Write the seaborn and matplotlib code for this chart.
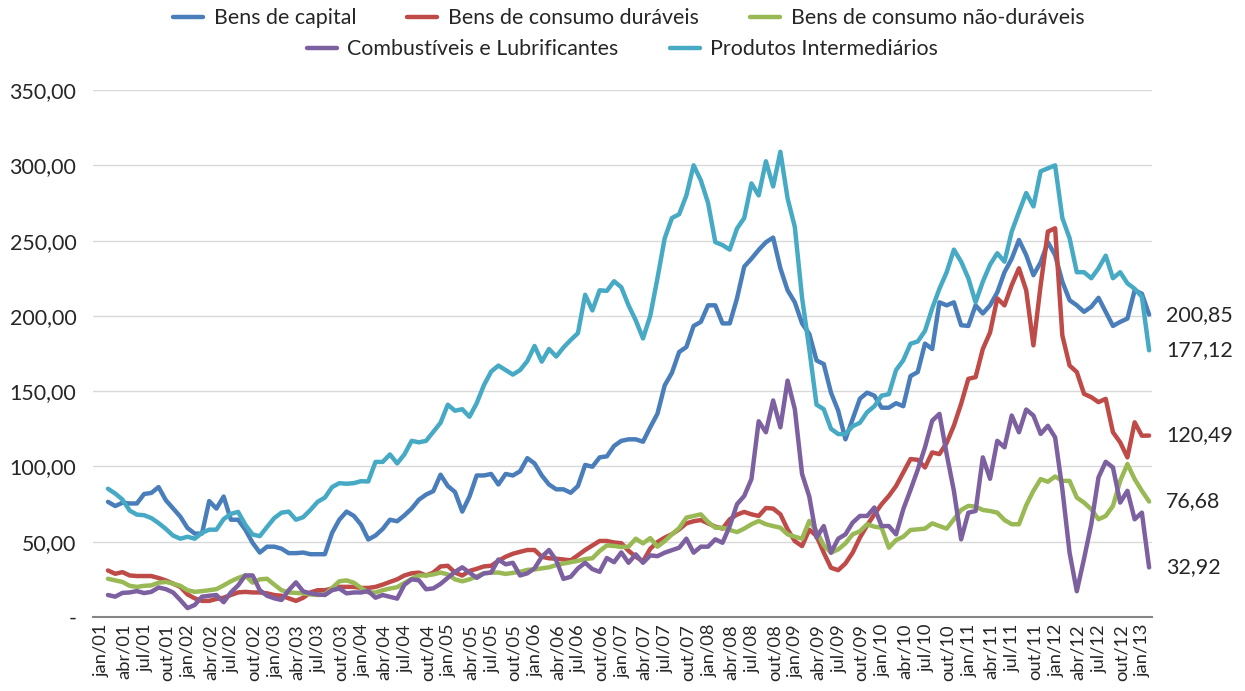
import pandas as pd
import matplotlib
matplotlib.use('Agg')
import matplotlib.pyplot as plt
import matplotlib.transforms as mtransforms
from matplotlib.lines import Line2D
import seaborn as sns

# Índices de preços de importação por categoria de uso (jan/01 a jan/13)
bens_capital = [
    76.5, 73.7, 75.9, 75.4, 75.4, 81.7, 82.4, 86.3, 77.6, 72.2, 66.7, 59.1,
    55.4, 55.4, 77, 72, 80, 64.6, 64.6, 58, 49.3, 42.8, 46.7, 46.7,
    45.4, 42.4, 42.4, 42.8, 41.7, 41.7, 41.7, 55.9, 64.6, 70, 67.2, 61.3,
    51.5, 54.1, 58.5, 64.6, 63.6, 67.5, 72, 77.9, 81.3, 83.6, 94.5, 87,
    83, 70, 80, 94, 94, 95, 88, 95, 94, 96.8, 105.5, 102,
    94, 88, 84.8, 84.8, 82.5, 87, 101, 99.8, 106, 106.7, 113.6, 117,
    118, 118, 116.4, 126, 135, 153.8, 162.2, 176, 179.3, 193.3, 196, 207,
    207, 195, 195, 211.6, 232.7, 238, 243.8, 248.9, 252, 231.6, 217, 209,
    195, 188, 170.4, 168, 149, 137, 118, 131.6, 145, 149, 147, 139,
    139, 142, 140, 160, 162.7, 181.6, 178, 209, 207, 209, 193.8, 193.3,
    207, 201.6, 207, 215.6, 229, 238, 250.4, 240.4, 227, 235.6, 248.9, 240.4,
    222.7, 210.4, 207, 202.7, 206, 212, 202.7, 193.3, 196, 198.2, 217, 214.7,
    200.85,
]
consumo_duraveis = [
    30.9, 28.7, 29.8, 27.6, 27.2, 27.2, 27.2, 25.9, 24.3, 22.2, 20, 15,
    12.4, 10.7, 10.7, 12, 12.8, 14.6, 16.3, 16.7, 16.3, 16.3, 15.7, 14.6,
    14.1, 12.4, 10.7, 12.8, 16.3, 17.8, 17.8, 18.9, 20, 20, 20, 19.3,
    19.3, 20, 21.5, 23.3, 25, 27.6, 29, 29.5, 27.6, 29.5, 33.6, 34,
    29.5, 27.5, 30.6, 32, 33.6, 34, 37.3, 40, 42, 43.3, 44.5, 44.5,
    40, 39, 38.7, 38.2, 37.6, 41, 44.5, 47.5, 50.5, 50.5, 49.5, 49,
    44, 40, 37, 45.3, 49.8, 52.7, 55, 58.2, 62.2, 63.6, 64.4, 62.2,
    60, 58.7, 64.9, 68, 69.8, 68.2, 67.1, 72.4, 72, 68.2, 58.2, 50.4,
    47.1, 58, 53.8, 42.7, 32.7, 31.1, 35.6, 42.7, 52.7, 60.9, 68.2, 74.9,
    80.4, 87, 96, 104.9, 104.4, 99.3, 109.3, 108.2, 115.6, 127.1, 141.6, 158.2,
    159.3, 178, 188.9, 211.6, 207, 220.4, 231.6, 217, 180.4, 220.4, 256, 258.2,
    187, 167, 162.7, 148.2, 146, 142.7, 144.9, 122.7, 116, 106, 129.3, 120.4,
    120.49,
]
consumo_nao_duraveis = [
    25.4, 24.3, 23.3, 20.7, 20, 20.7, 21, 22.8, 23.3, 22.2, 20.7, 17.8,
    16.7, 17.2, 17.8, 18.5, 21, 23.7, 25.9, 27.6, 22.8, 25, 25.4, 21.5,
    17.8, 16.3, 16, 15.7, 15, 14.6, 15, 19.3, 23.7, 24.3, 22.8, 19.3,
    16.3, 16.3, 17.8, 18.9, 19.8, 22.6, 25.3, 27.6, 27.6, 28.3, 29.5, 28.3,
    25, 23.7, 25, 27, 29, 29.5, 29.5, 28.6, 29.3, 30, 31.3, 31.6,
    32.3, 33, 34.5, 35.5, 36.4, 37.3, 38.5, 39, 43.8, 47.5, 47.2, 46.5,
    46.7, 52, 48.9, 52.4, 46.7, 50.4, 54.9, 59.1, 66, 67.1, 68.2, 63.1,
    59.3, 59.3, 57.8, 56.4, 58.7, 61.6, 63.8, 61.6, 60.4, 59.3, 54.9, 53.3,
    52, 63.8, 57.1, 47.6, 42.7, 44.9, 48.9, 54.9, 56.9, 61.6, 60, 59.3,
    46, 51.1, 53.3, 57.8, 58.2, 58.7, 62.2, 60.4, 58.7, 64.9, 71.1, 73.8,
    73.3, 71.1, 70.4, 69.3, 64.4, 61.6, 61.6, 74.2, 83.8, 91.6, 89.8, 93.3,
    90.4, 90.4, 79.3, 76, 71.6, 64.9, 67.1, 73.8, 90.4, 101.6, 91.6, 83.8,
    76.68,
]
combustiveis = [
    14.6, 13.5, 16, 16.3, 17.2, 15.9, 16.7, 19.6, 18.5, 16.3, 11.3, 5.9,
    8, 13.5, 14.1, 14.6, 9.8, 16.3, 21, 27.6, 27.6, 17.8, 14.1, 12.4,
    11.3, 17.8, 23, 17, 15.7, 15, 14.6, 17.8, 18.9, 15.7, 16.3, 16.3,
    17.2, 12.8, 14.6, 13.4, 12.2, 21.4, 25, 24.4, 18.4, 19, 22, 26,
    30, 33, 29.5, 26, 29, 29.5, 38.2, 35, 36, 27.6, 29, 32.3,
    40, 44.5, 37.6, 25.3, 26.7, 32.3, 36, 31.8, 30, 39.2, 36.4, 42.9,
    36, 41.6, 36, 40.9, 40.4, 42.7, 44.4, 46, 52, 42.7, 46.7, 46.7,
    51.6, 49.3, 60.4, 74.9, 80.4, 91.6, 130, 122.7, 143.8, 126, 157, 138,
    95, 80, 52.7, 60.4, 42.7, 52, 54.9, 62.7, 67.1, 67.1, 72.7, 60.4,
    60.4, 54.9, 71.6, 84.4, 97.8, 112.7, 130.4, 134.9, 108.2, 83.8, 51.6, 69.3,
    70.4, 106, 91.8, 117, 112.7, 133.8, 122.7, 137.8, 133.8, 121.6, 127, 119.3,
    84.9, 42.7, 17.1, 38.7, 61.6, 92.7, 103.1, 99.3, 76, 83.8, 64.9, 69.3,
    32.92,
]
intermediarios = [
    85.2, 82, 78, 70.7, 68, 67.6, 65.7, 62.4, 58.5, 54.1, 52, 53.3,
    52, 55.9, 58, 58, 65, 68.5, 69.8, 61.3, 54.8, 53.7, 59.8, 65.7,
    69.3, 70, 64.6, 66.3, 71.1, 76.5, 79.3, 86.3, 88.9, 88.5, 88.9, 90.2,
    90, 103, 103, 108, 102, 108, 117, 116, 117, 123, 129, 141,
    137, 138, 133, 142, 154, 163, 167, 164, 161, 164, 170, 180,
    169.6, 178, 173, 179, 184, 188.5, 214, 203.6, 217, 216.6, 223, 219,
    207, 197, 185, 200, 225, 251.5, 265, 267.5, 280, 300, 290, 275,
    249, 247, 244, 258, 265, 288, 280, 302.7, 286, 309, 278, 259,
    212, 178, 141, 138, 125, 121.5, 121.5, 126.7, 129, 136, 140, 147,
    148, 164, 170.5, 181.5, 183, 190, 205, 218, 229, 244, 236, 225,
    209, 222.7, 234, 241.6, 236, 256, 269, 281.6, 272.7, 296, 298, 300,
    265, 251.6, 229, 229, 225, 231.6, 240, 225, 229, 221.6, 218, 212.7,
    177.12,
]

nomes = ['Bens de capital', 'Bens de consumo duráveis', 'Bens de consumo não-duráveis',
         'Combustíveis e Lubrificantes', 'Produtos Intermediários']
cores = ['#4A7EBB', '#BE4B48', '#98B954', '#7D60A0', '#46AAC5']

meses = ['jan', 'fev', 'mar', 'abr', 'mai', 'jun', 'jul', 'ago', 'set', 'out', 'nov', 'dez']
datas = [f'{m}/{a:02d}' for a in range(1, 14) for m in meses][:145]

df = pd.DataFrame({
    'mes': range(len(datas)),
    nomes[0]: bens_capital,
    nomes[1]: consumo_duraveis,
    nomes[2]: consumo_nao_duraveis,
    nomes[3]: combustiveis,
    nomes[4]: intermediarios,
})
longo = df.melt(id_vars='mes', var_name='serie', value_name='valor')

sns.set_style('white')
plt.rcParams['font.family'] = ['Lato', 'DejaVu Sans']
cor_texto = '#262626'
fs = 15.4

fig = plt.figure(figsize=(12.45, 6.91), dpi=100)
ax = fig.add_axes([0.0747, 0.1071, 0.8506, 0.7626])

sns.lineplot(data=longo, x='mes', y='valor', hue='serie', hue_order=nomes,
             palette=dict(zip(nomes, cores)), linewidth=3.2, legend=False,
             ax=ax, sort=False)

ax.set_xlim(-2.07, 144.4)
ax.set_ylim(0, 350)
ax.set_xlabel('')
ax.set_ylabel('')

yt = list(range(0, 351, 50))
ax.set_yticks(yt)
ax.set_yticklabels(['-' if v == 0 else f'{v},00' for v in yt], fontsize=fs, color=cor_texto)
ax.set_xticks(range(0, len(datas), 3))
ax.set_xticklabels(datas[::3], rotation=90, fontsize=13.2, color=cor_texto)
ax.tick_params(axis='y', length=0, pad=12)
ax.tick_params(axis='x', length=0, pad=5)
desloc = mtransforms.ScaledTranslation(-6 / 100, 0, fig.dpi_scale_trans)
for lbl in ax.get_xticklabels():
    lbl.set_transform(lbl.get_transform() + desloc)

ax.yaxis.grid(True, color='#d9d9d9', linewidth=1)
ax.set_axisbelow(True)
for s in ['left', 'top', 'right']:
    ax.spines[s].set_visible(False)
ax.spines['bottom'].set_color('#868686')
ax.spines['bottom'].set_linewidth(1.5)

# valores finais à direita
for serie in nomes:
    v = df[serie].iloc[-1]
    ax.annotate(f'{v:.2f}'.replace('.', ','), xy=(len(datas) - 1, v), xytext=(17, 0),
                textcoords='offset pixels', va='center', ha='left', fontsize=fs,
                color=cor_texto, annotation_clip=False)

alcas = [Line2D([0], [0], color=c, linewidth=3.2) for c in cores]
opcoes = dict(frameon=False, fontsize=fs, handlelength=1.4, handletextpad=0.5,
              columnspacing=2.4, labelcolor=cor_texto, loc='center')
fig.legend(alcas[:3], nomes[:3], ncol=3, bbox_to_anchor=(0.505, 1 - 18 / 691), **opcoes)
fig.legend(alcas[3:], nomes[3:], ncol=2, bbox_to_anchor=(0.5, 1 - 49 / 691), **opcoes)

fig.savefig('out.png', dpi=100)
